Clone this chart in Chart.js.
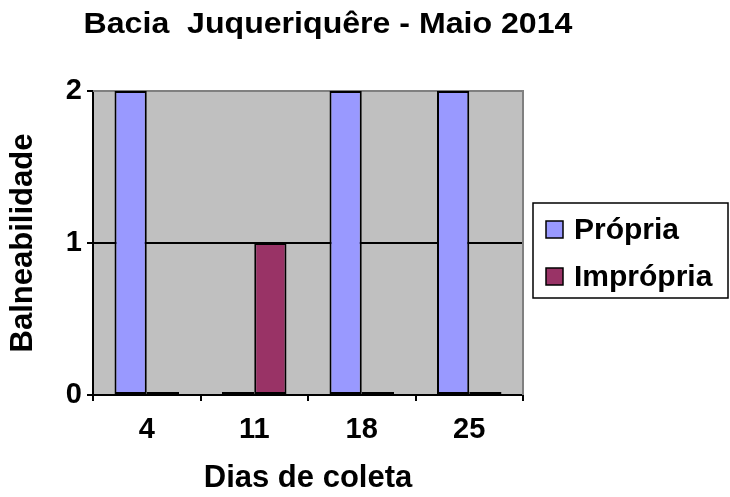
<!DOCTYPE html>
<html>
<head>
<meta charset="utf-8">
<script src="https://cdn.jsdelivr.net/npm/chart.js@4/dist/chart.umd.min.js"></script>
<style>
    html, body { margin: 0; padding: 0; background: #fff; }
    #wrap { width: 730px; height: 497px; }
</style>
</head>
<body>
<div id="wrap"><canvas id="chart" width="730" height="497"></canvas></div>
<script>
// data
const dias = ["4", "11", "18", "25"];
const propria = [2, 0, 2, 2];
const impropria = [0, 1, 0, 0];
const tituloGrafico = "Bacia  Juqueriquêre - Maio 2014";

const FONT = "'Liberation Sans', Arial, sans-serif";

// gray plot background + gray top/right frame
const plotArea = {
    id: "plotArea",
    beforeDraw(chart) {
        const { ctx, chartArea: a } = chart;
        ctx.save();
        ctx.fillStyle = "#C0C0C0";
        ctx.fillRect(a.left, a.top, a.right - a.left, a.bottom - a.top);
        ctx.restore();
    },
    beforeDatasetsDraw(chart) {
        const { ctx, chartArea: a } = chart;
        ctx.save();
        ctx.strokeStyle = "#808080";
        ctx.lineWidth = 2;
        ctx.beginPath();
        ctx.moveTo(a.left, a.top);
        ctx.lineTo(a.right, a.top);
        ctx.lineTo(a.right, a.bottom);
        ctx.stroke();
        ctx.restore();
    },
};

// title, drawn a bit wider like the original
const titlePlugin = {
    id: "titlePlugin",
    afterDraw(chart) {
        const ctx = chart.ctx;
        ctx.save();
        ctx.font = "bold 30px " + FONT;
        ctx.fillStyle = "#000";
        ctx.textAlign = "center";
        ctx.textBaseline = "alphabetic";
        ctx.translate(328, 33);
        ctx.scale(1.07, 1);
        ctx.fillText(tituloGrafico, 0, 0);
        ctx.restore();
    },
};

// boxed legend on the right
const boxLegend = {
    id: "boxLegend",
    afterDraw(chart) {
        const ctx = chart.ctx;
        ctx.save();
        ctx.fillStyle = "#fff";
        ctx.fillRect(533, 203, 195, 95);
        ctx.strokeStyle = "#000";
        ctx.lineWidth = 1.5;
        ctx.strokeRect(533, 203, 195, 95);
        ctx.font = "bold 30px " + FONT;
        ctx.textBaseline = "alphabetic";
        chart.data.datasets.forEach((ds, i) => {
            const y = 221 + i * 47;
            ctx.fillStyle = ds.backgroundColor;
            ctx.fillRect(546, y, 17, 17);
            ctx.strokeStyle = "#000";
            ctx.lineWidth = 1.5;
            ctx.strokeRect(546, y, 17, 17);
            ctx.fillStyle = "#000";
            ctx.fillText(ds.label, 574, y + 18);
        });
        ctx.restore();
    },
};

const ctx = document.getElementById("chart").getContext("2d");
new Chart(ctx, {
    type: "bar",
    data: {
        labels: dias,
        datasets: [
            {
                label: "Própria",
                data: propria,
                backgroundColor: "#9999FF",
                borderColor: "#000",
                borderWidth: 2,
                borderSkipped: false,
            },
            {
                label: "Imprópria",
                data: impropria,
                backgroundColor: "#993366",
                borderColor: "#000",
                borderWidth: 2,
                borderSkipped: false,
            },
        ],
    },
    options: {
        responsive: false,
        animation: false,
        layout: { padding: { top: 91, right: 207, left: 0, bottom: 0 } },
        datasets: {
            bar: { categoryPercentage: 0.6, barPercentage: 1.0, minBarLength: 3 },
        },
        plugins: {
            legend: { display: false },
            title: { display: false },
            tooltip: { enabled: false },
        },
        scales: {
            x: {
                afterFit: (scale) => { scale.height = 102; },
                grid: {
                    offset: true,
                    drawOnChartArea: false,
                    drawTicks: true,
                    tickLength: 6,
                    color: "#000",
                    lineWidth: 2,
                },
                border: { color: "#000", width: 2 },
                ticks: {
                    color: "#000",
                    padding: 12,
                    font: { family: FONT, size: 29, weight: "bold" },
                },
                title: {
                    display: true,
                    text: "Dias de coleta",
                    color: "#000",
                    padding: { top: 0, bottom: 0 },
                    font: { family: FONT, size: 31, weight: "bold" },
                },
            },
            y: {
                min: 0,
                max: 2,
                afterFit: (scale) => { scale.width = 93; },
                grid: {
                    color: (c) => (c.tick && c.tick.value === 2 ? "#808080" : "#000"),
                    lineWidth: 2,
                    tickColor: "#000",
                    tickLength: 6,
                },
                border: { color: "#000", width: 2 },
                ticks: {
                    stepSize: 1,
                    color: "#000",
                    padding: 5,
                    font: { family: FONT, size: 29, weight: "bold" },
                },
                title: {
                    display: true,
                    text: "Balneabilidade",
                    color: "#000",
                    padding: { top: 5, bottom: 0 },
                    font: { family: FONT, size: 31, weight: "bold" },
                },
            },
        },
    },
    plugins: [plotArea, titlePlugin, boxLegend],
});
</script>
</body>
</html>
